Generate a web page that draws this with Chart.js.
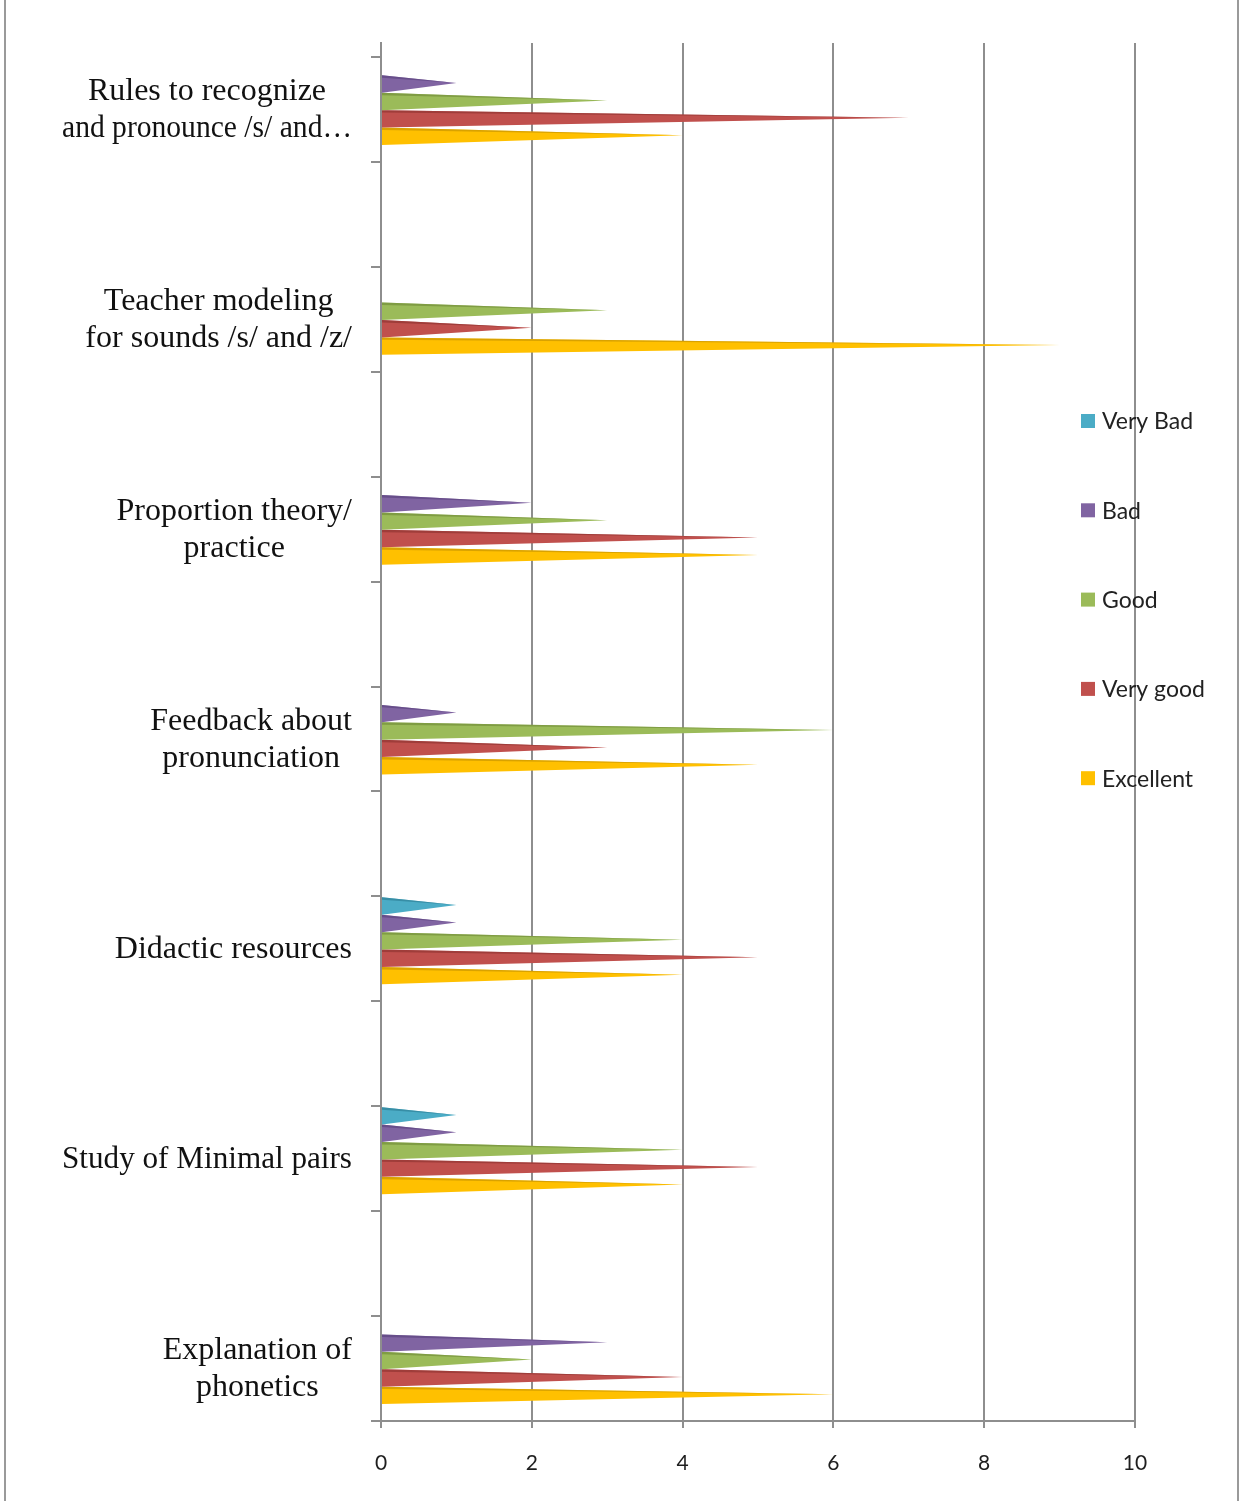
<!DOCTYPE html>
<html>
<head>
<meta charset="utf-8">
<title>Pronunciation teaching ratings</title>
<script src="https://cdn.jsdelivr.net/npm/chart.js@4/dist/chart.umd.min.js"></script>
<style>
  html, body { margin: 0; padding: 0; background: #ffffff; }
  #wrap { position: relative; width: 1242px; height: 1501px; }
  #frame { position: absolute; left: 4px; top: 0; width: 1235px; height: 1501px;
           border-left: 2px solid #9a9a9a; border-right: 2px solid #9a9a9a; box-sizing: border-box; }
  canvas { position: absolute; left: 0; top: 0; }
</style>
</head>
<body>
<div id="wrap">
  <div id="frame"></div>
  <canvas id="chart" width="1242" height="1501"></canvas>
</div>
<script>
// Aspects of pronunciation teaching, top to bottom (each entry = label lines)
const categories = [
  ['Rules to recognize', 'and pronounce /s/ and\u2026'],
  ['Teacher modeling', 'for sounds /s/ and /z/'],
  ['Proportion theory/', 'practice'],
  ['Feedback about', 'pronunciation'],
  ['Didactic resources'],
  ['Study of Minimal pairs'],
  ['Explanation of', 'phonetics']
];

// Number of answers per rating
const veryBad  = [0, 0, 0, 0, 1, 1, 0];
const bad      = [1, 0, 2, 1, 1, 1, 3];
const good     = [3, 3, 3, 6, 4, 4, 2];
const veryGood = [7, 2, 5, 3, 5, 5, 4];
const excellent = [4, 9, 5, 5, 4, 4, 6];

const seriesNames = ['Very Bad', 'Bad', 'Good', 'Very good', 'Excellent'];
const seriesColors = ['#4BACC6', '#8064A2', '#9BBB59', '#C0504D', '#FFC000'];
const seriesShades = ['#2f8299', '#5c4580', '#748f3a', '#923432', '#c99500'];

const xTicks = [0, 2, 4, 6, 8, 10];
const yTickCount = 14;

// Each category sits in a band two axis ticks high; the group of bars hugs the upper tick
const catPos = i => 0.424 + 2 * i;

const seriesValues = [veryBad, bad, good, veryGood, excellent];
const datasets = seriesValues.map((vals, s) => ({
  label: seriesNames[s],
  backgroundColor: seriesColors[s],
  data: vals.map((v, i) => ({ x: v, y: catPos(i) }))
}));

// Draw each bar as a flat cone: full height at the axis, tapering to a point at the value
const conePlugin = {
  id: 'cones',
  beforeDatasetDraw(chart, args) {
    const ctx = chart.ctx;
    const s = args.index;
    ctx.save();
    args.meta.data.forEach(el => {
      const p = el.getProps(['x', 'y', 'base', 'height'], true);
      if (Math.abs(p.x - p.base) < 0.5) return;
      const top = p.y - p.height / 2, bottom = p.y + p.height / 2;
      const tipY = p.y - 1;
      ctx.beginPath();
      ctx.moveTo(p.base, top);
      ctx.lineTo(p.x, tipY);
      ctx.lineTo(p.base, bottom);
      ctx.closePath();
      ctx.fillStyle = seriesColors[s];
      ctx.fill();
      // darker upper facet
      ctx.beginPath();
      ctx.moveTo(p.base, top);
      ctx.lineTo(p.x, tipY);
      ctx.lineTo(p.base, top + p.height * 0.14);
      ctx.closePath();
      ctx.fillStyle = seriesShades[s];
      ctx.globalAlpha = 0.7;
      ctx.fill();
      ctx.globalAlpha = 1;
    });
    ctx.restore();
    return false;
  }
};

// Category labels: each block right-aligned to the axis, lines centred within the block
const categoryLabelPlugin = {
  id: 'categoryLabels',
  afterDraw(chart) {
    const ctx = chart.ctx;
    const yScale = chart.scales.y;
    const right = chart.chartArea.left - 29;
    const lineH = 37;
    const maxW = 290;
    ctx.save();
    ctx.font = '32px "Liberation Serif", "Times New Roman", serif';
    ctx.fillStyle = '#111111';
    ctx.textAlign = 'center';
    ctx.textBaseline = 'middle';
    categories.forEach((lines, i) => {
      const cy = yScale.getPixelForValue(catPos(i)) + 9;
      const w = Math.min(maxW, Math.max(...lines.map(l => ctx.measureText(l).width)));
      const cx = right - w / 2;
      lines.forEach((l, j) => {
        ctx.fillText(l, cx, cy + (j - (lines.length - 1) / 2) * lineH, maxW);
      });
    });
    ctx.restore();
  }
};

// Legend column on the right, drawn over the plot grid
const sideLegendPlugin = {
  id: 'sideLegend',
  afterDraw(chart) {
    const ctx = chart.ctx;
    ctx.save();
    ctx.font = '23px Lato, "Open Sans", sans-serif';
    ctx.textAlign = 'left';
    ctx.textBaseline = 'middle';
    chart.data.datasets.forEach((ds, i) => {
      const y = 421 + 89.3 * i;
      ctx.fillStyle = ds.backgroundColor;
      ctx.fillRect(1081, y - 7, 14, 14);
      ctx.fillStyle = '#222222';
      ctx.fillText(ds.label, 1102, y + 1);
    });
    ctx.restore();
  }
};

const gridColor = '#8e8e8e';

new Chart(document.getElementById('chart'), {
  type: 'bar',
  data: { datasets },
  options: {
    indexAxis: 'y',
    responsive: false,
    devicePixelRatio: 1,
    animation: false,
    barThickness: 17.4,
    layout: { padding: { left: 0, top: 43, right: 107, bottom: 0 } },
    plugins: {
      legend: { display: false },
      tooltip: { enabled: false }
    },
    scales: {
      x: {
        type: 'linear',
        position: 'bottom',
        offset: false,
        min: xTicks[0],
        max: xTicks[xTicks.length - 1],
        afterBuildTicks: s => { s.ticks = xTicks.map(v => ({ value: v })); },
        afterFit: s => { s.height = 80; },
        grid: { offset: false, color: gridColor, lineWidth: 2, tickLength: 7, drawTicks: true },
        border: { color: gridColor, width: 2 },
        ticks: {
          padding: 23,
          color: '#1e1e1e',
          font: { family: 'Lato', size: 21 }
        }
      },
      y: {
        type: 'linear',
        position: 'left',
        offset: false,
        reverse: true,
        min: -0.133,
        max: yTickCount - 1,
        afterBuildTicks: s => { s.ticks = Array.from({ length: yTickCount }, (_, k) => ({ value: k })); },
        afterFit: s => { s.width = 381; },
        grid: { offset: false, drawOnChartArea: false, color: gridColor, lineWidth: 2, tickLength: 10 },
        border: { color: gridColor, width: 2 },
        ticks: { callback: () => '', padding: 0 }
      }
    }
  },
  plugins: [conePlugin, categoryLabelPlugin, sideLegendPlugin]
});
</script>
</body>
</html>
